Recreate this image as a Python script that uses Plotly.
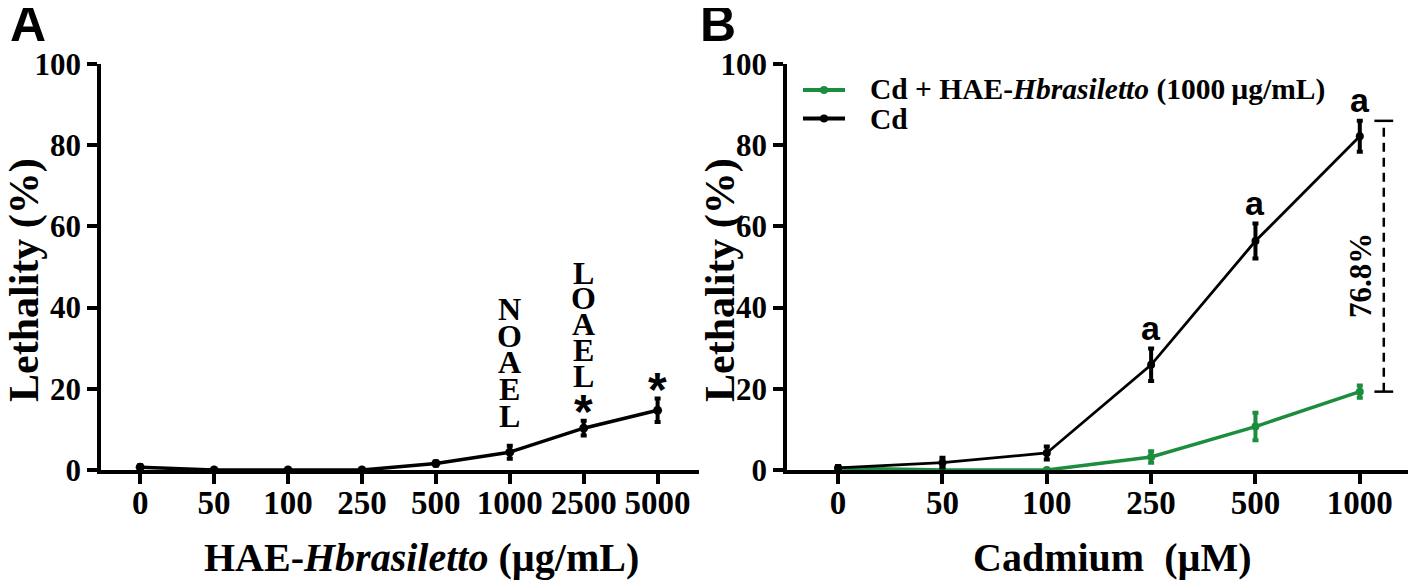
import plotly.graph_objects as go

# ---- data ----
# panel A: HAE-Hbrasiletto alone
hae_doses = ["0", "50", "100", "250", "500", "1000", "2500", "5000"]
hae_lethality = [0.7, 0.0, 0.0, 0.0, 1.6, 4.4, 10.3, 14.7]
hae_err = [0.5, 0.0, 0.0, 0.0, 0.5, 1.6, 1.8, 2.9]
noael_dose = "1000"
loael_dose = "2500"
star_doses = ["2500", "5000"]

# panel B: cadmium with / without extract
cd_doses = ["0", "50", "100", "250", "500", "1000"]
cd_lethality = [0.5, 1.8, 4.2, 25.9, 56.4, 82.2]
cd_err = [0.5, 1.2, 1.6, 4.0, 4.3, 3.8]
cd_hae_lethality = [0.5, 0.0, 0.0, 3.2, 10.7, 19.3]
cd_hae_err = [0.3, 0.0, 0.0, 1.4, 3.4, 1.5]
sig_doses = ["250", "500", "1000"]
reduction_label = "76.8%"

y_ticks = [0, 20, 40, 60, 80, 100]

# the page body adds an 8px margin at top/left, so the figure starts there
OFF = 8
W, H = 1416 - OFF, 581 - OFF
SERIF = "Liberation Serif"
SANS = "Liberation Sans"
GREEN = "#1b8d3d"


def px(x):
    return min(max((x - OFF) / W, 0.0), 1.0)


def py(y):
    return 1 - (y - OFF) / H


fig = go.Figure()

fig.add_trace(go.Scatter(
    x=hae_doses, y=hae_lethality, xaxis="x", yaxis="y",
    mode="lines+markers", showlegend=False,
    line=dict(color="black", width=3.5),
    marker=dict(color="black", size=9),
    error_y=dict(type="data", array=hae_err, color="black", thickness=4, width=3),
))

series_b = [
    ("Cd + HAE-<i>Hbrasiletto</i> (1000\u2009µg/mL)", cd_hae_lethality, cd_hae_err, GREEN, 3.5),
    ("Cd", cd_lethality, cd_err, "black", 2.8),
]
for name, vals, errs, color, lw in series_b:
    fig.add_trace(go.Scatter(
        x=cd_doses, y=vals, xaxis="x2", yaxis="y2",
        mode="lines+markers", name=name, showlegend=False,
        line=dict(color=color, width=lw),
        marker=dict(color=color, size=8),
        error_y=dict(type="data", array=errs, color=color, thickness=4, width=3),
    ))

axis_common = dict(
    showline=True, linecolor="black", linewidth=3.5,
    ticks="outside", ticklen=10, tickwidth=3.5, tickcolor="black",
    showgrid=False, zeroline=False, automargin=False,
    tickfont=dict(family=SERIF, size=31, color="black", weight="bold"),
)
xaxis_extra = dict(type="category", ticklabelstandoff=-9,
                   tickfont=dict(family=SERIF, size=33, color="black", weight="bold"))

fig.update_layout(
    width=W, height=H,
    margin=dict(l=0, r=0, t=0, b=0, autoexpand=False),
    paper_bgcolor="white", plot_bgcolor="white",
    showlegend=False,
    xaxis=dict(axis_common, **xaxis_extra, domain=[px(101), px(699)], anchor="y",
               range=[-0.53, 7.56]),
    yaxis=dict(axis_common, domain=[py(470), py(64)], anchor="x",
               range=[0, 100], tickvals=y_ticks),
    xaxis2=dict(axis_common, **xaxis_extra, domain=[px(787), px(1413)], anchor="y2",
                range=[-0.49, 5.51]),
    yaxis2=dict(axis_common, domain=[py(470), py(64)], anchor="x2",
                range=[0, 100], tickvals=y_ticks),
)

ann = []
shapes = []

# panel letters
for letter, xl in [("A", 1), ("B", 698)]:
    ann.append(dict(text="<b>%s</b>" % letter, x=px(xl), y=py(24), xref="paper", yref="paper",
                    xanchor="left", yanchor="middle", showarrow=False,
                    font=dict(family=SANS, size=50, color="black")))

# axis titles
title_font = dict(family=SERIF, size=42, color="black", weight="bold")
for xc, yc, txt, ang in [
    (24, 280, "Lethality (%)", -90),
    (720, 280, "Lethality (%)", -90),
    (422, 557, "HAE-<i>Hbrasiletto</i> (µg/mL)", 0),
    (1112, 557, "Cadmium\u00a0 (µM)", 0),
]:
    ann.append(dict(text=txt, x=px(xc), y=py(yc), xref="paper", yref="paper",
                    xanchor="center", yanchor="middle", textangle=ang,
                    showarrow=False, font=title_font if ang else dict(title_font, size=40)))

# legend for panel B, drawn by hand to match the tight row spacing
for k, (name, _, _, color, lw) in enumerate(series_b):
    yr = py(90 + 28.5 * k)
    shapes.append(dict(type="line", xref="paper", yref="paper",
                       x0=px(803), x1=px(845), y0=yr, y1=yr,
                       line=dict(color=color, width=4)))
    shapes.append(dict(type="circle", xref="paper", yref="paper",
                       x0=px(820), x1=px(828), y0=yr - 4 / H, y1=yr + 4 / H,
                       fillcolor=color, line=dict(color=color, width=0)))
    ann.append(dict(text=name, x=px(868), y=yr, xref="paper", yref="paper",
                    xanchor="left", yanchor="middle", showarrow=False,
                    font=dict(family=SERIF, size=29.5, color="black", weight="bold")))

# NOAEL / LOAEL as stacked letters
letter_font = dict(family=SERIF, size=32, color="black", weight="bold")
for dose, word, gap, pitch in [(noael_dose, "NOAEL", 30, 26.6),
                               (loael_dose, "LOAEL", 45, 25.8)]:
    i = hae_doses.index(dose)
    top = hae_lethality[i] + hae_err[i]
    for k, ch in enumerate(word):
        ann.append(dict(text=ch, x=i, y=top, xref="x", yref="y",
                        xanchor="center", yanchor="middle", showarrow=False,
                        yshift=gap + (len(word) - 1 - k) * pitch,
                        font=letter_font))

# significance stars
for dose in star_doses:
    i = hae_doses.index(dose)
    ann.append(dict(text="<b>*</b>", x=i, y=hae_lethality[i] + hae_err[i],
                    xref="x", yref="y", xanchor="center", yanchor="bottom",
                    yshift=-19, showarrow=False,
                    font=dict(family=SANS, size=48, color="black")))

# letter "a" above Cd points
for dose in sig_doses:
    i = cd_doses.index(dose)
    ann.append(dict(text="<b>a</b>", x=i, y=cd_lethality[i] + cd_err[i],
                    xref="x2", yref="y2", xanchor="center", yanchor="bottom",
                    yshift=0, showarrow=False,
                    font=dict(family=SANS, size=34, color="black")))

# bracket showing reduction at the highest dose
top = cd_lethality[-1] + cd_err[-1]
bottom = cd_hae_lethality[-1]
xb = len(cd_doses) - 1 + 0.23
shapes += [
    dict(type="line", xref="x2", yref="y2", x0=xb, x1=xb, y0=bottom, y1=top,
         line=dict(color="black", width=2.5, dash="9px,6px")),
    dict(type="line", xref="x2", yref="y2", x0=xb - 0.09, x1=xb + 0.09, y0=top, y1=top,
         line=dict(color="black", width=2.5)),
    dict(type="line", xref="x2", yref="y2", x0=xb - 0.09, x1=xb + 0.09, y0=bottom, y1=bottom,
         line=dict(color="black", width=2.5)),
]
ann.append(dict(text=reduction_label, x=len(cd_doses) - 1, y=(top + bottom) / 2,
                xref="x2", yref="y2", textangle=-90, showarrow=False,
                xanchor="center", yanchor="middle", yshift=-19,
                font=dict(family=SERIF, size=31, color="black", weight="bold")))

fig.update_layout(annotations=ann, shapes=shapes)

fig.write_html("out.html")
